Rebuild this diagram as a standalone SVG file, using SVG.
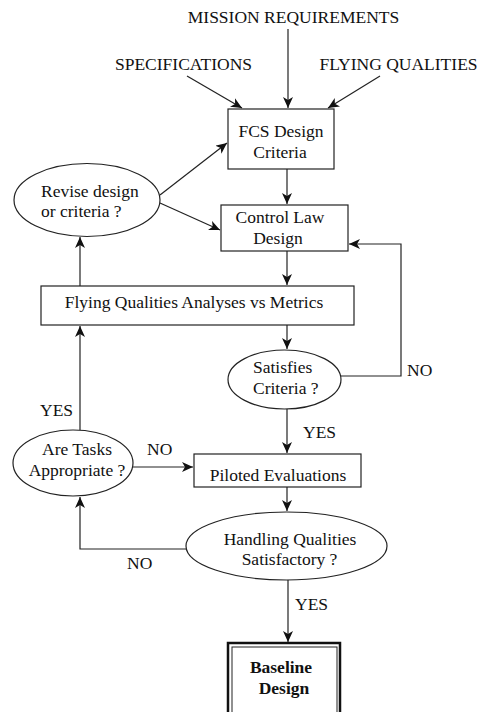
<svg xmlns="http://www.w3.org/2000/svg" width="483" height="712" viewBox="0 0 483 712">
<defs>
<style>
text{font-family:"Liberation Serif","Times New Roman",serif;font-size:17.5px;fill:#111}
.m{text-anchor:middle}
.b{font-weight:bold}
.shape{fill:#fff;stroke:#222;stroke-width:1.2}
.c{fill:none;stroke:#222;stroke-width:1.2;marker-end:url(#ah)}
.l{fill:none;stroke:#222;stroke-width:1.2}
</style>
<marker id="ah" markerUnits="userSpaceOnUse" markerWidth="12" markerHeight="10" refX="11" refY="5" orient="auto">
<path d="M0,0 L11,5 L0,10 L3,5 z" fill="#111"/>
</marker>
</defs>
<rect width="483" height="712" fill="#fff"/>

<g id="inputs">
<text class="m" x="293.5" y="23">MISSION REQUIREMENTS</text>
<text class="m" x="183.5" y="70">SPECIFICATIONS</text>
<text class="m" x="398.5" y="70">FLYING QUALITIES</text>
</g>

<g id="fcs">
<rect class="shape" x="228" y="109" width="106" height="60"/>
<text class="m" x="281" y="137">FCS Design</text>
<text class="m" x="280" y="158">Criteria</text>
</g>

<g id="revise">
<ellipse class="shape" cx="87" cy="200" rx="73" ry="36.5"/>
<text x="41" y="197">Revise design</text>
<text x="41" y="217">or criteria ?</text>
</g>

<g id="controllaw">
<rect class="shape" x="221" y="205" width="127" height="46"/>
<text class="m" x="280" y="223">Control Law</text>
<text class="m" x="278" y="244">Design</text>
</g>

<g id="fqanalyses">
<rect class="shape" x="41" y="286" width="313" height="39"/>
<text class="m" x="194" y="308">Flying Qualities Analyses vs Metrics</text>
</g>

<g id="satisfies">
<ellipse class="shape" cx="284.5" cy="379.5" rx="56.5" ry="29.5"/>
<text x="253" y="373">Satisfies</text>
<text x="253" y="394">Criteria ?</text>
</g>

<g id="aretasks">
<ellipse class="shape" cx="73" cy="463" rx="60" ry="33"/>
<text class="m" x="77" y="455">Are Tasks</text>
<text class="m" x="77" y="476">Appropriate ?</text>
</g>

<g id="piloted">
<rect class="shape" x="194" y="454" width="167" height="33"/>
<text class="m" x="278" y="481">Piloted Evaluations</text>
</g>

<g id="handling">
<ellipse class="shape" cx="286.5" cy="546" rx="100.5" ry="34"/>
<text class="m" x="290" y="545">Handling Qualities</text>
<text class="m" x="289.5" y="565">Satisfactory ?</text>
</g>

<g id="baseline">
<rect x="228" y="643" width="112" height="90" fill="#fff" stroke="#111" stroke-width="2.5"/>
<rect x="232" y="647" width="105" height="90" fill="none" stroke="#222" stroke-width="1"/>
<text class="m b" x="281" y="673">Baseline</text>
<text class="m b" x="284" y="694">Design</text>
</g>

<g id="connectors">
<path class="c" d="M288,29 L288,108"/>
<path class="c" d="M187,76 L242,108"/>
<path class="c" d="M380,76 L328,108"/>
<path class="c" d="M287,169 L287,204"/>
<path class="c" d="M160,195 L227,143"/>
<path class="c" d="M160,203 L220,230"/>
<path class="c" d="M287,251 L287,285"/>
<path class="c" d="M80,286 L80,237"/>
<path class="c" d="M287,325 L287,349"/>
<path class="c" d="M341,376 L401,376 L401,244 L349,244"/>
<path class="c" d="M287,409 L287,453"/>
<path class="c" d="M80,430 L80,326"/>
<path class="c" d="M133,467 L193,467"/>
<path class="c" d="M287,487 L287,511"/>
<path class="c" d="M186,549 L80,549 L80,497"/>
<path class="c" d="M288,580 L288,642"/>
<text x="407" y="376">NO</text>
<text x="303" y="438">YES</text>
<text x="147" y="455">NO</text>
<text x="40" y="416">YES</text>
<text x="127" y="569">NO</text>
<text x="295" y="610">YES</text>
</g>
</svg>
